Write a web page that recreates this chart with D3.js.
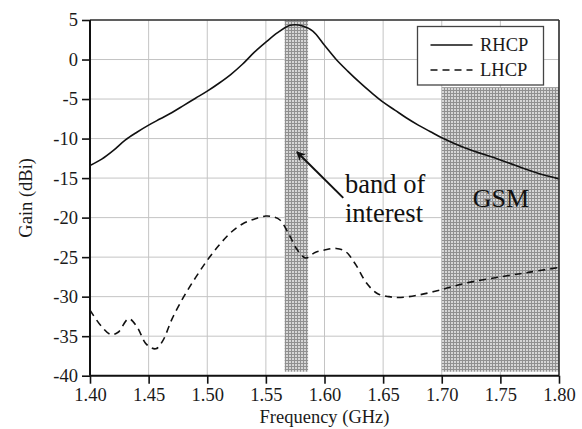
<!DOCTYPE html>
<html>
<head>
<meta charset="utf-8">
<script src="https://cdn.jsdelivr.net/npm/d3@7"></script>
<style>
  html, body { margin: 0; padding: 0; background: #fff; }
  svg { display: block; }
  svg text { font-family: "Liberation Serif", "Times New Roman", serif; }
</style>
</head>
<body>
<svg id="chart" width="582" height="429"></svg>
<script>
// Frequency sweep (GHz) and measured gain (dBi) for the two polarisations
const rhcpFreq = [1.400, 1.410, 1.420, 1.430, 1.440, 1.450, 1.460, 1.470, 1.480, 1.490,
                  1.500, 1.510, 1.520, 1.530, 1.540, 1.550, 1.560, 1.570, 1.575, 1.580,
                  1.590, 1.600, 1.610, 1.620, 1.630, 1.640, 1.650, 1.660, 1.670, 1.680,
                  1.690, 1.700, 1.720, 1.750, 1.780, 1.800];
const rhcpGain = [-13.4, -12.6, -11.5, -10.2, -9.2, -8.3, -7.5, -6.7, -5.8, -4.9,
                  -4.0, -3.0, -1.9, -0.6, 0.9, 2.2, 3.4, 4.3, 4.4, 4.3,
                  3.6, 1.8, 0.0, -1.5, -2.9, -4.2, -5.4, -6.4, -7.4, -8.3,
                  -9.1, -9.9, -11.2, -12.7, -14.3, -15.1];

const lhcpFreq = [1.400, 1.410, 1.418, 1.424, 1.433, 1.440, 1.448, 1.456, 1.462, 1.470,
                  1.480, 1.490, 1.500, 1.510, 1.520, 1.530, 1.540, 1.550, 1.556, 1.562,
                  1.570, 1.576, 1.584, 1.592, 1.600, 1.610, 1.618, 1.626, 1.636, 1.645,
                  1.655, 1.665, 1.680, 1.700, 1.720, 1.750, 1.775, 1.800];
const lhcpGain = [-31.7, -33.8, -34.8, -34.5, -32.8, -33.8, -36.0, -36.6, -35.6, -32.8,
                  -30.0, -27.6, -25.4, -23.5, -21.9, -20.8, -20.2, -19.8, -19.9, -20.3,
                  -22.2, -23.9, -25.1, -24.4, -24.1, -23.9, -24.3, -25.8, -28.3, -29.6,
                  -30.0, -30.1, -29.8, -29.1, -28.3, -27.5, -26.9, -26.3];

// Shaded frequency bands: [fStart, fEnd, gainTop, gainBottom]
const bandOfInterest = [1.566, 1.586, 5, -39.5];
const gsmBand = [1.700, 1.800, -3.5, -39.5];

// Axis ticks
const xTicks = [1.40, 1.45, 1.50, 1.55, 1.60, 1.65, 1.70, 1.75, 1.80];
const yTicks = [5, 0, -5, -10, -15, -20, -25, -30, -35, -40];

// Series labels and annotation text
const seriesNames = ["RHCP", "LHCP"];
const bandLabel = ["band of", "interest"];
const gsmLabel = "GSM";
// Arrow from the label toward the band: [f, gain] tail and head
const arrowTail = [1.616, -17.5];
const arrowHead = [1.5765, -11.7];

const svg = d3.select("#chart");
const m = { left: 90, right: 23, top: 20, bottom: 53.3 };
const W = 582, H = 429;
const SERIF = '"Liberation Serif", "Times New Roman", serif';

const x = d3.scaleLinear().domain([1.40, 1.80]).range([m.left, W - m.right]);
const y = d3.scaleLinear().domain([-40, 5]).range([H - m.bottom, m.top]);

// Dotted hatch used for shaded bands
const defs = svg.append("defs");
const pat = defs.append("pattern")
  .attr("id", "hatch").attr("patternUnits", "userSpaceOnUse")
  .attr("width", 3).attr("height", 3);
pat.append("rect").attr("width", 3).attr("height", 3).attr("fill", "#d6d6d6");
pat.append("rect").attr("x", 0).attr("y", 0).attr("width", 3).attr("height", 1).attr("fill", "#909090");
pat.append("rect").attr("x", 0).attr("y", 0).attr("width", 1).attr("height", 3).attr("fill", "#909090");

const marker = defs.append("marker")
  .attr("id", "arrowhead").attr("viewBox", "0 0 10 10")
  .attr("refX", 9).attr("refY", 5)
  .attr("markerWidth", 10).attr("markerHeight", 9)
  .attr("markerUnits", "userSpaceOnUse")
  .attr("orient", "auto");
marker.append("path").attr("d", "M0,0 L10,5 L0,10 L3,5 Z").attr("fill", "#111");

// Grid
const grid = svg.append("g").attr("stroke", "#c4c4c4").attr("stroke-width", 1);
grid.selectAll("line.vx").data(xTicks).join("line")
  .attr("x1", d => x(d)).attr("x2", d => x(d))
  .attr("y1", y(5)).attr("y2", y(-40));
grid.selectAll("line.hy").data(yTicks).join("line")
  .attr("x1", x(1.40)).attr("x2", x(1.80))
  .attr("y1", d => y(d)).attr("y2", d => y(d));

// Shaded bands
[bandOfInterest, gsmBand].forEach(b => {
  svg.append("rect")
    .attr("x", x(b[0])).attr("width", x(b[1]) - x(b[0]))
    .attr("y", y(b[2])).attr("height", y(b[3]) - y(b[2]))
    .attr("fill", "url(#hatch)");
});

// Curves
const line = d3.line()
  .x(d => x(d[0])).y(d => y(d[1]))
  .curve(d3.curveCatmullRom.alpha(0.5));

svg.append("path")
  .datum(d3.zip(rhcpFreq, rhcpGain))
  .attr("d", line).attr("fill", "none")
  .attr("stroke", "#111").attr("stroke-width", 1.6);

svg.append("path")
  .datum(d3.zip(lhcpFreq, lhcpGain))
  .attr("d", line).attr("fill", "none")
  .attr("stroke", "#111").attr("stroke-width", 1.6)
  .attr("stroke-dasharray", "7,5");

// Frame (top and right)
svg.append("line").attr("x1", x(1.40)).attr("x2", x(1.80)).attr("y1", y(5)).attr("y2", y(5))
  .attr("stroke", "#333").attr("stroke-width", 1.6);
svg.append("line").attr("x1", x(1.80)).attr("x2", x(1.80)).attr("y1", y(5)).attr("y2", y(-40))
  .attr("stroke", "#333").attr("stroke-width", 1.6);

// Axes (plain hyphen for negative tick labels)
const xAxis = svg.append("g")
  .attr("transform", `translate(0,${y(-40)})`)
  .call(d3.axisBottom(x).tickValues(xTicks).tickFormat(d3.format(".2f")).tickSize(8).tickPadding(4));
const yAxis = svg.append("g")
  .attr("transform", `translate(${x(1.40)},0)`)
  .call(d3.axisLeft(y).tickValues(yTicks).tickFormat(d => String(d)).tickSize(8).tickPadding(4));

[xAxis, yAxis].forEach(a => {
  a.attr("font-family", SERIF).attr("font-size", 18.5);
  a.select(".domain").attr("stroke", "#111").attr("stroke-width", 2);
  a.selectAll(".tick line").attr("stroke", "#111").attr("stroke-width", 1.6);
  a.selectAll(".tick text").attr("fill", "#1a1a1a");
});
xAxis.select(".domain").attr("d", `M${x(1.40)},0H${x(1.80)}`);
yAxis.select(".domain").attr("d", `M0,${y(5)}V${y(-40)}`);

// Axis titles
svg.append("text")
  .attr("x", (x(1.40) + x(1.80)) / 2).attr("y", 423)
  .attr("text-anchor", "middle").attr("font-size", 18.5).attr("fill", "#1a1a1a")
  .text("Frequency (GHz)");
svg.append("text")
  .attr("transform", `translate(31.5,${(y(5) + y(-40)) / 2}) rotate(-90)`)
  .attr("text-anchor", "middle").attr("font-size", 18.5).attr("fill", "#1a1a1a")
  .text("Gain (dBi)");

// Legend
const lg = svg.append("g");
lg.append("rect").attr("x", 417.5).attr("y", 26.5).attr("width", 126).attr("height", 58.5)
  .attr("fill", "#fff").attr("stroke", "#444").attr("stroke-width", 1.3);
seriesNames.forEach((name, i) => {
  const ly = 45 + i * 25;
  lg.append("line").attr("x1", 430.5).attr("x2", 472.5).attr("y1", ly).attr("y2", ly)
    .attr("stroke", "#111").attr("stroke-width", 1.6)
    .attr("stroke-dasharray", i === 1 ? "7,5" : null);
  lg.append("text").attr("x", 480).attr("y", ly).attr("dy", "0.35em")
    .attr("font-size", 18.5).attr("fill", "#1a1a1a").text(name);
});

// Annotations
svg.append("line")
  .attr("x1", x(arrowTail[0])).attr("y1", y(arrowTail[1]))
  .attr("x2", x(arrowHead[0])).attr("y2", y(arrowHead[1]))
  .attr("stroke", "#111").attr("stroke-width", 2)
  .attr("marker-end", "url(#arrowhead)");

const bt = svg.append("text").attr("font-size", 26.5).attr("fill", "#111");
bandLabel.forEach((t, i) => {
  bt.append("tspan").attr("x", 345).attr("y", 193.3 + i * 28.4).text(t);
});

svg.append("text").attr("x", (x(1.70) + x(1.80)) / 2 + 0.5).attr("y", 207.3)
  .attr("text-anchor", "middle").attr("font-size", 26).attr("fill", "#111")
  .text(gsmLabel);
</script>
</body>
</html>
